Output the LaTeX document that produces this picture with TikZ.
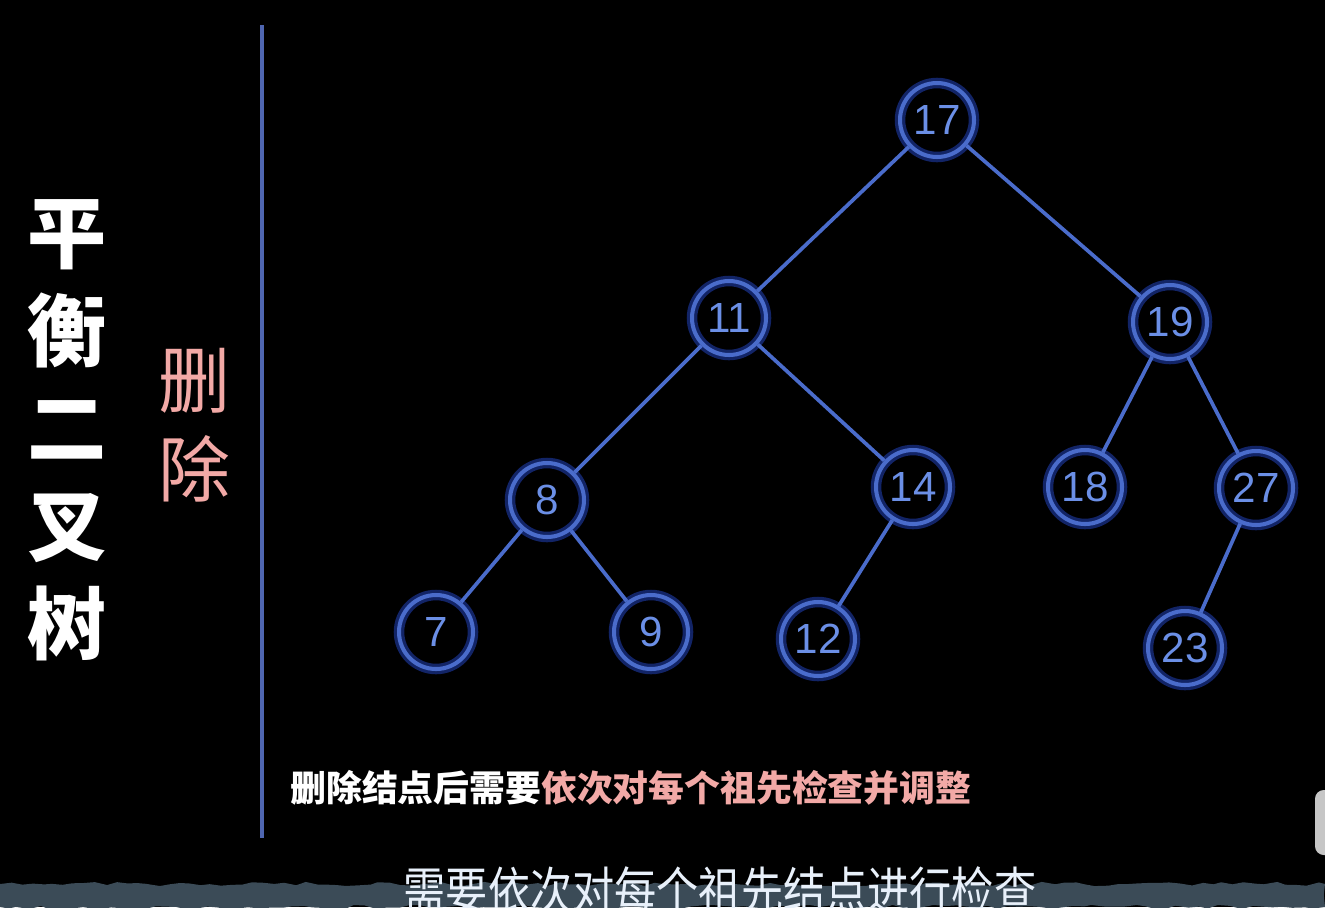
\documentclass[tikz,border=0pt]{standalone}
\usepackage{fontspec}
\setmainfont{Liberation Sans}
\newfontfamily\cjk{Noto Sans CJK SC}
\usetikzlibrary{positioning, decorations.pathmorphing}
\definecolor{treeblue}{HTML}{4A6CCB}
\definecolor{glowblue}{HTML}{2F5BFF}
\definecolor{digitblue}{HTML}{6B8FE6}
\definecolor{rulerblue}{HTML}{4F66B0}
\definecolor{pinktext}{HTML}{F2A9A6}
\definecolor{bandgray}{HTML}{3B4B57}
\definecolor{subwhite}{HTML}{E8F0FA}
\tikzset{
  treenode/.style={circle, draw=treeblue, line width=2.3pt, minimum size=1.48cm, inner sep=0pt,
    text=digitblue, font=\fontsize{24}{24}\selectfont,
    preaction={draw=glowblue, line width=6pt, opacity=0.4}},
  edge/.style={draw=treeblue, line width=2.1pt},
  titletext/.style={text=white, align=center, font=\cjk\bfseries\fontsize{45}{55.6}\selectfont},
  sidetext/.style={text=pinktext, align=center, font=\cjk\fontsize{41}{51}\selectfont}
}
\begin{document}
\begin{tikzpicture}[x=0.02cm, y=-0.02cm]

    % fondo
    \fill[black] (0,0) rectangle (1325,907);
    \useasboundingbox (0,0) rectangle (1325,907);

    % titulo vertical
    \node[titletext] (title) at (67,430) {平\\衡\\二\\叉\\树};
    \node[sidetext] (side) at (195,425) {删\\除};
    \draw[rulerblue, line width=2.1pt] (262,25) -- (262,838);

    % nodos del arbol
    \foreach \name/\x/\y in {17/937/120, 11/729/318, 19/1170/322, 8/547/500, 14/913/487,
        18/1085/487, 27/1256/488, 7/436/632, 9/651/632, 12/818/639, 23/1185/648} {
        \node[treenode] (n\name) at (\x,\y) {\name};
    }

    % aristas
    \foreach \a/\b in {17/11, 17/19, 11/8, 11/14, 19/18, 19/27, 8/7, 8/9, 14/12, 27/23} {
        \draw[edge] (n\a) -- (n\b);
    }

    % nota inferior
    \node[anchor=west, inner sep=0pt, font=\cjk\bfseries\fontsize{20.4}{20.4}\selectfont] (note) at (290,788)
        {\textcolor{white}{删除结点后需要}\textcolor{pinktext}{依次对每个祖先检查并调整}};

    % subtitulo
    \fill[bandgray, decorate, decoration={random steps, segment length=6, amplitude=1.2}]
        (0,907) -- (0,884) -- (1325,884) -- (1325,907) -- cycle;
    \node[text=subwhite, inner sep=0pt, font=\cjk\fontsize{24}{24}\selectfont] (subtitle) at (720,890)
        {\scalebox{1}[1.2]{需要依次对每个祖先结点进行检查}};

    % borde derecho
    \fill[gray!45!white, rounded corners=5pt] (1315,790) rectangle (1340,855);

\end{tikzpicture}
\end{document}
